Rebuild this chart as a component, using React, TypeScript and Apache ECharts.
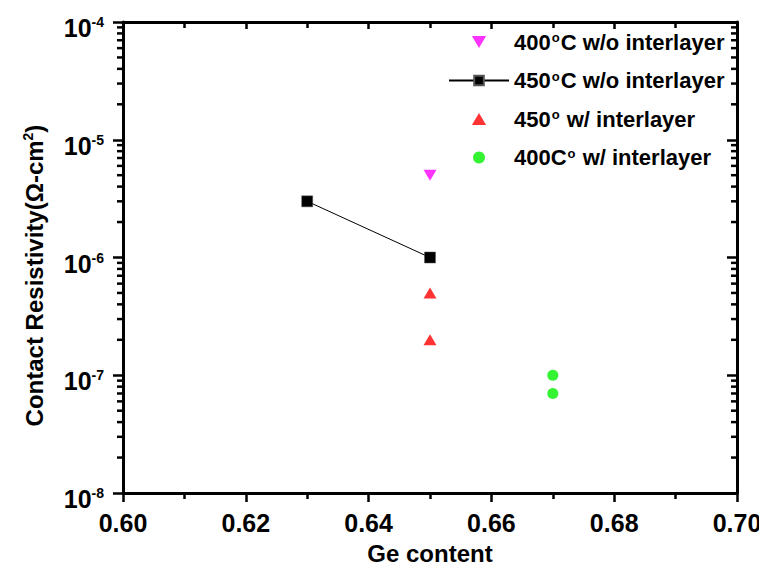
import React, { useEffect, useRef } from "react";
import * as echarts from "echarts";

const names = [
  "400°C w/o interlayer",
  "450°C w/o interlayer",
  "450° w/ interlayer",
  "400C° w/ interlayer",
];
const legendRich = [
  "400{s|o}C w/o interlayer",
  "450{s|o}C w/o interlayer",
  "450{s|o} w/ interlayer",
  "400C{s|o} w/ interlayer",
];
const x400wo = [0.65];
const y400wo = [5e-6];
const x450wo = [0.63, 0.65];
const y450wo = [3e-6, 1e-6];
const x450w = [0.65, 0.65];
const y450w = [5e-7, 2e-7];
const x400w = [0.67, 0.67];
const y400w = [1e-7, 7e-8];
const decades = [-8, -7, -6, -5];
const minorMult = [2, 3, 4, 5, 6, 7, 8, 9];

const FONT = "'Liberation Sans', Arial, sans-serif";

export default function App() {
  const ref = useRef<HTMLDivElement>(null);
  useEffect(() => {
    if (!ref.current) return;
    const chart = echarts.init(ref.current, null, { renderer: "svg" });
    const zip = (xs: number[], ys: number[]) => xs.map((x, i) => [x, ys[i]]);
    const minorData: number[][] = [];
    decades.forEach((d) => minorMult.forEach((m) => minorData.push([0.6, m * Math.pow(10, d)])));
    const yLabelFmt = (v: number) => {
      const e = Math.round(Math.log10(v));
      return "{b|10}{s|" + e + "}";
    };
    const axisLine = { show: true, lineStyle: { color: "#000", width: 3 } };
    chart.setOption({
      animation: false,
      backgroundColor: "#fff",
      grid: { left: 123, right: 30, top: 22, bottom: 85, containLabel: false },
      legend: {
        orient: "vertical",
        left: 448,
        top: 31,
        padding: 0,
        itemWidth: 60,
        itemHeight: 12,
        itemGap: 13.5,
        data: [
          { name: names[0], icon: "path://M0,0L13,0L6.5,11Z" },
          { name: names[1] },
          { name: names[2], icon: "path://M6.5,0L13,11L0,11Z" },
          { name: names[3], icon: "circle" },
        ],
        formatter: (n: string) => legendRich[names.indexOf(n)],
        textStyle: {
          fontFamily: FONT,
          fontWeight: "bold",
          fontSize: 22,
          color: "#000",
          rich: {
            s: { fontFamily: FONT, fontWeight: "bold", fontSize: 13, verticalAlign: "top", lineHeight: 13, padding: [0, 1, 12, 1] },
          },
        },
        selectedMode: false,
      },
      xAxis: [
        {
          type: "value",
          min: 0.6,
          max: 0.7,
          interval: 0.02,
          position: "bottom",
          name: "Ge content",
          nameLocation: "middle",
          nameGap: 48,
          nameTextStyle: { fontFamily: FONT, fontWeight: "bold", fontSize: 24, color: "#000" },
          axisLine,
          axisTick: { show: true, inside: false, length: 9, lineStyle: { color: "#000", width: 2.5 } },
          minorTick: { show: true, splitNumber: 2, length: 6, lineStyle: { color: "#000", width: 2.5 } },
          axisLabel: {
            margin: 17,
            fontFamily: FONT,
            fontWeight: "bold",
            fontSize: 25,
            color: "#000",
            formatter: (v: number) => v.toFixed(2),
          },
          splitLine: { show: false },
        },
        {
          type: "value",
          min: 0.6,
          max: 0.7,
          interval: 0.02,
          position: "top",
          axisLine,
          axisTick: { show: true, inside: true, length: 7, lineStyle: { color: "#000", width: 2.5 } },
          minorTick: { show: true, splitNumber: 2, length: 6, lineStyle: { color: "#000", width: 2.5 } },
          axisLabel: { show: false },
          splitLine: { show: false },
        },
      ],
      yAxis: [
        {
          type: "log",
          logBase: 10,
          min: 1e-8,
          max: 1e-4,
          position: "left",
          name: "Contact Resistivity(Ω-cm{s|2})",
          nameLocation: "middle",
          nameGap: 76,
          nameTextStyle: {
            fontFamily: FONT,
            fontWeight: "bold",
            fontSize: 24,
            color: "#000",
            padding: [0, 36, 0, 0],
            rich: {
              s: { fontFamily: FONT, fontWeight: "bold", fontSize: 14, verticalAlign: "top", padding: [0, 0, 12, 0] },
            },
          },
          axisLine,
          axisTick: { show: true, inside: false, length: 10, lineStyle: { color: "#000", width: 2.5 } },
          axisLabel: {
            margin: 19,
            formatter: yLabelFmt,
            padding: [12, 0, 0, 0],
            rich: {
              b: { fontFamily: FONT, fontWeight: "bold", fontSize: 25, color: "#000" },
              s: { fontFamily: FONT, fontWeight: "bold", fontSize: 14, color: "#000", verticalAlign: "top", padding: [0, 0, 12, 0] },
            },
          },
          splitLine: { show: false },
        },
        {
          type: "log",
          logBase: 10,
          min: 1e-8,
          max: 1e-4,
          position: "right",
          axisLine,
          axisTick: { show: true, inside: true, length: 10, lineStyle: { color: "#000", width: 2.5 } },
          axisLabel: { show: false },
          splitLine: { show: false },
        },
      ],
      series: [
        {
          type: "custom",
          silent: true,
          clip: false,
          xAxisIndex: 0,
          yAxisIndex: 0,
          data: minorData,
          renderItem: (params: any, api: any) => {
            const v = api.value(1);
            const pl = api.coord([0.6, v]);
            const pr = api.coord([0.7, v]);
            return {
              type: "group",
              children: [
                { type: "line", shape: { x1: pl[0] - 6, y1: pl[1], x2: pl[0], y2: pl[1] }, style: { stroke: "#000", lineWidth: 2.5 } },
                { type: "line", shape: { x1: pr[0] - 6, y1: pr[1], x2: pr[0], y2: pr[1] }, style: { stroke: "#000", lineWidth: 2.5 } },
              ],
            };
          },
        },
        {
          name: names[0],
          type: "scatter",
          data: zip(x400wo, y400wo),
          symbol: "triangle",
          symbolRotate: 180,
          symbolSize: [13, 11],
          itemStyle: { color: "#FF00FF" },
        },
        {
          name: names[1],
          type: "line",
          data: zip(x450wo, y450wo),
          symbol: "rect",
          symbolSize: 11,
          showAllSymbol: true,
          lineStyle: { color: "#000", width: 1 },
          itemStyle: { color: "#000", borderColor: "#555", borderWidth: 0.5 },
        },
        {
          name: names[2],
          type: "scatter",
          data: zip(x450w, y450w),
          symbol: "triangle",
          symbolSize: [13, 11],
          itemStyle: { color: "#FF0000" },
        },
        {
          name: names[3],
          type: "scatter",
          data: zip(x400w, y400w),
          symbol: "circle",
          symbolSize: 11,
          itemStyle: { color: "#00F000" },
        },
      ],
    });
    return () => chart.dispose();
  }, []);
  return <div ref={ref} style={{ width: 767, height: 578, margin: -8 }} />;
}
